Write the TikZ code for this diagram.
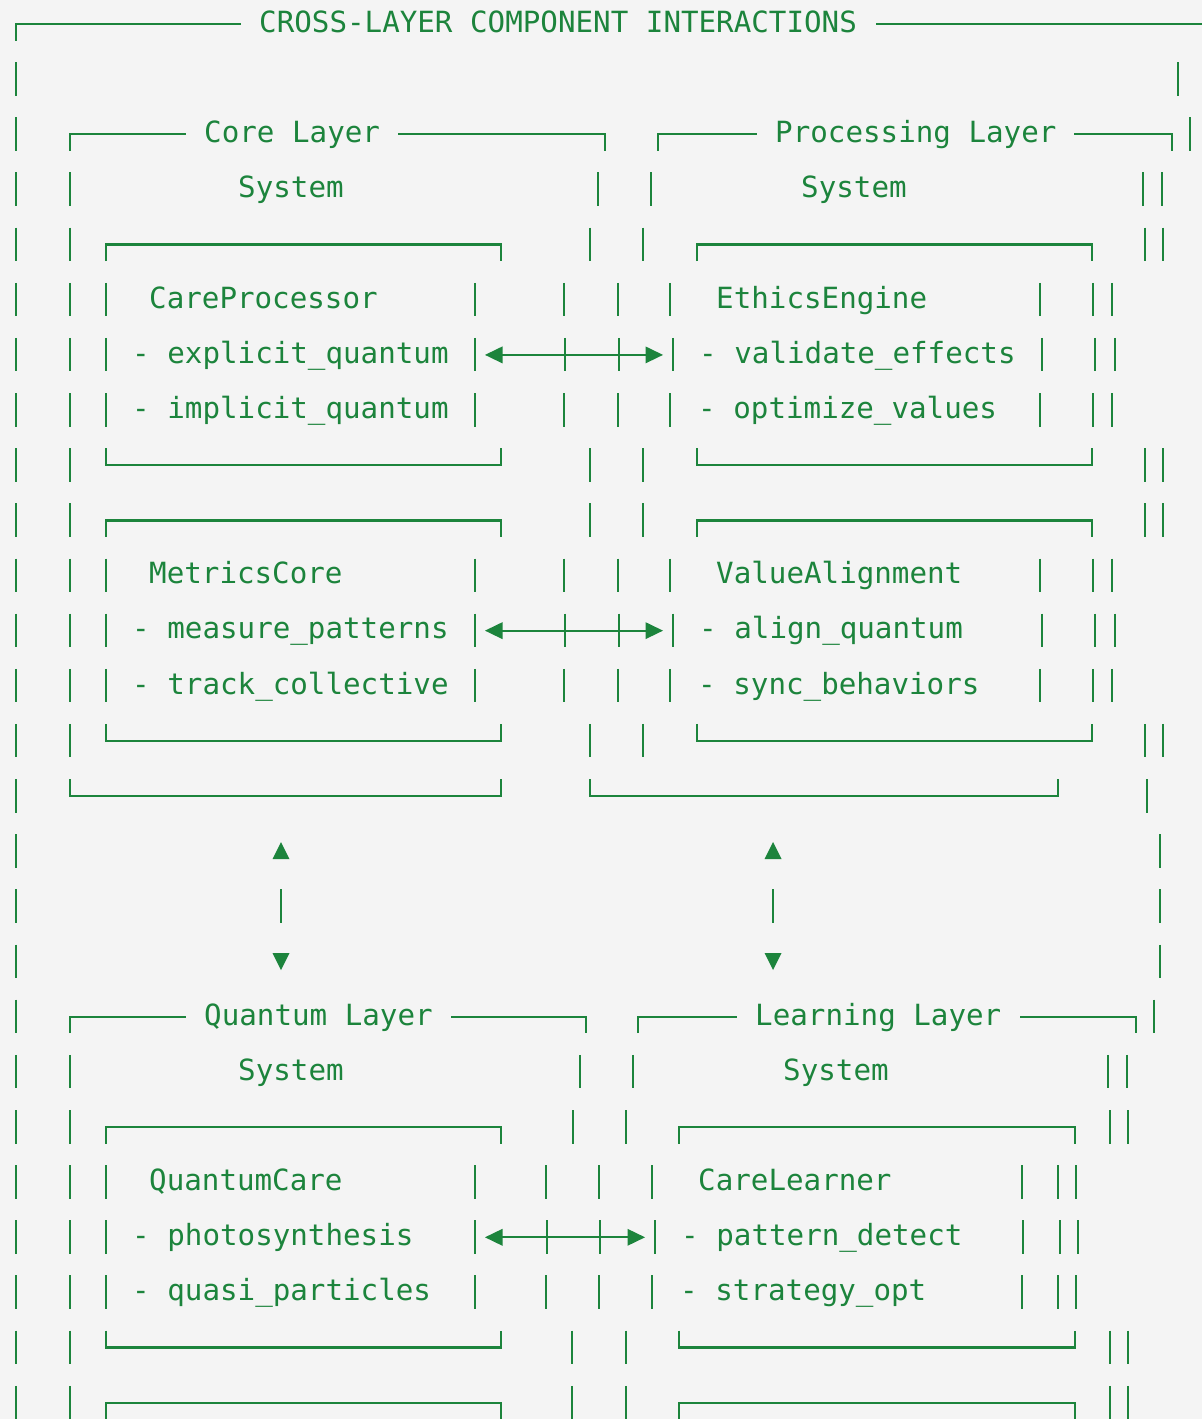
\documentclass[tikz,border=0pt]{standalone}
\usepackage{fontspec}
\newfontfamily\monof{DejaVu Sans Mono}
\definecolor{grn}{RGB}{28,132,60}
\definecolor{bgc}{RGB}{244,244,244}
\newcommand\myvb[2]{\draw[ln] (#1,{22+55.15*(#2)-15}) -- (#1,{22+55.15*(#2)+18.5});}
\newcommand\mytop[3]{\draw[ln] (#1,{22+55.15*(#3)+18.5}) -- (#1,{22+55.15*(#3)+2}) -- (#2,{22+55.15*(#3)+2}) -- (#2,{22+55.15*(#3)+18.5});}
\newcommand\mybot[3]{\draw[ln] (#1,{22+55.15*(#3)-15}) -- (#1,{22+55.15*(#3)+2}) -- (#2,{22+55.15*(#3)+2}) -- (#2,{22+55.15*(#3)-15});}
\newcommand\myhl[3]{\draw[ln] (#1,{22+55.15*(#3)+2}) -- (#2,{22+55.15*(#3)+2});}
% double-headed link between two named coordinates
\newcommand\mylink[2]{%
  \draw[ln] ([xshift=10pt]#1) -- ([xshift=-10pt]#2);
  \fill[grn] (#1) -- ([xshift=17.5pt,yshift=8.5pt]#1) -- ([xshift=17.5pt,yshift=-8.5pt]#1) -- cycle;
  \fill[grn] (#2) -- ([xshift=-17.5pt,yshift=8.5pt]#2) -- ([xshift=-17.5pt,yshift=-8.5pt]#2) -- cycle;}
\begin{document}
\begin{tikzpicture}[x=1pt,y=-1pt,
  ln/.style={draw=grn,line width=2.3pt,line join=miter},
  txt/.style={anchor=base west,inner sep=0pt,text=grn,font=\monof\fontsize{29.2}{35}\selectfont}]
\clip (0,0) rectangle (1202,1419);
\fill[bgc] (0,0) rectangle (1202,1419);
\useasboundingbox (0,0) rectangle (1202,1419);

% ---------- row 0: outer frame title
\draw[ln] (16,{22+18.5}) -- (16,{22+2}) -- (241,{22+2});
\myhl{876}{1215}{0}
\node[txt] (title) at (259,{22+10.3}) {CROSS-LAYER COMPONENT INTERACTIONS};

% ---------- rows 1-2
\foreach \x in {16,1178} \myvb{\x}{1};
\foreach \x in {16,1190} \myvb{\x}{2};
\draw[ln] (70,{22+55.15*2+18.5}) -- (70,{22+55.15*2+2}) -- (186,{22+55.15*2+2});
\draw[ln] (398,{22+55.15*2+2}) -- (605,{22+55.15*2+2}) -- (605,{22+55.15*2+18.5});
\draw[ln] (658,{22+55.15*2+18.5}) -- (658,{22+55.15*2+2}) -- (757,{22+55.15*2+2});
\draw[ln] (1074,{22+55.15*2+2}) -- (1172,{22+55.15*2+2}) -- (1172,{22+55.15*2+18.5});
\node[txt] (corel) at (204,{22+55.15*2+10.3}) {Core Layer};
\node[txt] (procl) at (775,{22+55.15*2+10.3}) {Processing Layer};

% ---------- row 3
\foreach \x in {16,70,598,651,1143,1162} \myvb{\x}{3};
\node[txt] (sys1) at (238,{22+55.15*3+10.3}) {System};
\node[txt] (sys2) at (801,{22+55.15*3+10.3}) {System};

% ---------- rows 4-13 (two inner boxes per side)
\foreach \r in {4,9} {
  \foreach \x in {16,70,590,643,1145,1163} \myvb{\x}{\r};
  \mytop{106}{501}{\r}
  \mytop{697}{1092}{\r}
}
\foreach \r in {8,13} {
  \foreach \x in {16,70,590,643,1145,1163} \myvb{\x}{\r};
  \mybot{106}{501}{\r}
  \mybot{697}{1092}{\r}
}
\foreach \r in {5,7,10,12} {
  \foreach \x in {16,70,106,475,564,618,670,1040,1093,1112} \myvb{\x}{\r};
}
\foreach \r in {6,11} {
  \foreach \x in {16,70,106,475,565,619,673,1042,1095,1115} \myvb{\x}{\r};
}
\coordinate (cpa) at (485,{22+55.15*6+2});
\coordinate (eea) at (663,{22+55.15*6+2});
\mylink{cpa}{eea}
\coordinate (mca) at (485,{22+55.15*11+2});
\coordinate (vaa) at (663,{22+55.15*11+2});
\mylink{mca}{vaa}

\node[txt] (cp) at (149,{22+55.15*5+10.3}) {CareProcessor};
\node[txt] (cp1) at (132,{22+55.15*6+10.3}) {- explicit\_quantum};
\node[txt] (cp2) at (132,{22+55.15*7+10.3}) {- implicit\_quantum};
\node[txt] (ee) at (716,{22+55.15*5+10.3}) {EthicsEngine};
\node[txt] (ee1) at (699,{22+55.15*6+10.3}) {- validate\_effects};
\node[txt] (ee2) at (698,{22+55.15*7+10.3}) {- optimize\_values};
\node[txt] (mc) at (149,{22+55.15*10+10.3}) {MetricsCore};
\node[txt] (mc1) at (132,{22+55.15*11+10.3}) {- measure\_patterns};
\node[txt] (mc2) at (132,{22+55.15*12+10.3}) {- track\_collective};
\node[txt] (va) at (716,{22+55.15*10+10.3}) {ValueAlignment};
\node[txt] (va1) at (699,{22+55.15*11+10.3}) {- align\_quantum};
\node[txt] (va2) at (698,{22+55.15*12+10.3}) {- sync\_behaviors};

% ---------- row 14
\foreach \x in {16,1147} \myvb{\x}{14};
\mybot{70}{501}{14}
\mybot{590}{1058}{14}

% ---------- rows 15-17 vertical links
\foreach \r in {15,16,17} {\foreach \x in {16,1160} \myvb{\x}{\r};}
\foreach \x in {281,773} {
  \fill[grn] ({\x-8.5},859) -- (\x,842) -- ({\x+8.5},859) -- cycle;
  \myvb{\x}{16}
  \fill[grn] ({\x-8.5},953) -- (\x,970) -- ({\x+8.5},953) -- cycle;
}

% ---------- row 18
\foreach \x in {16,1154} \myvb{\x}{18};
\draw[ln] (70,{22+55.15*18+18.5}) -- (70,{22+55.15*18+2}) -- (186,{22+55.15*18+2});
\draw[ln] (451,{22+55.15*18+2}) -- (586,{22+55.15*18+2}) -- (586,{22+55.15*18+18.5});
\draw[ln] (638,{22+55.15*18+18.5}) -- (638,{22+55.15*18+2}) -- (737,{22+55.15*18+2});
\draw[ln] (1020,{22+55.15*18+2}) -- (1136,{22+55.15*18+2}) -- (1136,{22+55.15*18+18.5});
\node[txt] (ql) at (204,{22+55.15*18+10.3}) {Quantum Layer};
\node[txt] (ll) at (755,{22+55.15*18+10.3}) {Learning Layer};

% ---------- row 19
\foreach \x in {16,70,580,633,1108,1127} \myvb{\x}{19};
\node[txt] (sys3) at (238,{22+55.15*19+10.3}) {System};
\node[txt] (sys4) at (783,{22+55.15*19+10.3}) {System};

% ---------- rows 20-25
\foreach \x in {16,70,573,626,1110,1128} \myvb{\x}{20};
\mytop{106}{501}{20}
\mytop{679}{1075}{20}
\foreach \r in {21,23} {
  \foreach \x in {16,70,106,475,546,599,652,1022,1058,1076} \myvb{\x}{\r};
}
\foreach \x in {16,70,106,475,547,600,655,1023,1060,1078} \myvb{\x}{22};
\coordinate (qca) at (485,{22+55.15*22+2});
\coordinate (cla) at (645,{22+55.15*22+2});
\mylink{qca}{cla}
\foreach \x in {16,70,572,626,1110,1128} {\myvb{\x}{24} \myvb{\x}{25}}
\mybot{106}{501}{24}
\mybot{679}{1075}{24}
\mytop{106}{501}{25}
\mytop{679}{1075}{25}

\node[txt] (qc) at (149,{22+55.15*21+10.3}) {QuantumCare};
\node[txt] (qc1) at (132,{22+55.15*22+10.3}) {- photosynthesis};
\node[txt] (qc2) at (132,{22+55.15*23+10.3}) {- quasi\_particles};
\node[txt] (cl) at (698,{22+55.15*21+10.3}) {CareLearner};
\node[txt] (cl1) at (681,{22+55.15*22+10.3}) {- pattern\_detect};
\node[txt] (cl2) at (680,{22+55.15*23+10.3}) {- strategy\_opt};
\end{tikzpicture}
\end{document}
